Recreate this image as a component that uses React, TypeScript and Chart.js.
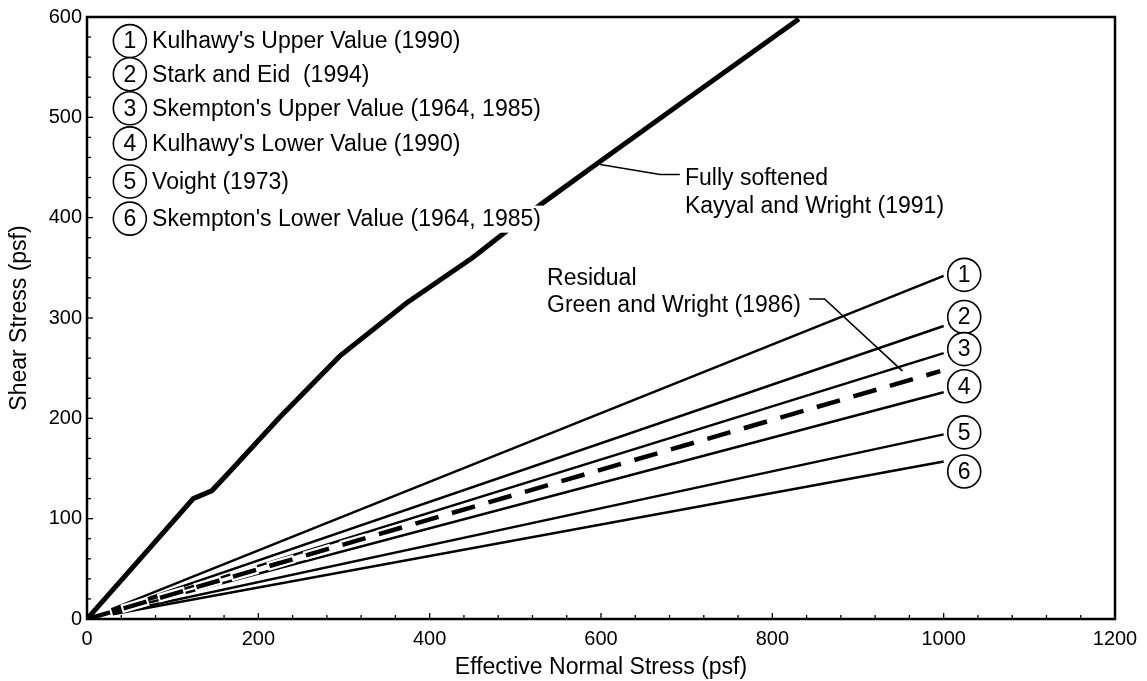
import { useEffect, useRef } from "react";
import { Chart, registerables } from "chart.js";
Chart.register(...registerables);

const FONT = "'Liberation Sans', Arial, Helvetica, sans-serif";

// Fully softened curve (Kayyal and Wright 1991)
const fullySoftenedX = [0, 60, 124, 146, 170, 225, 295, 373, 450, 531, 594, 700, 831];
const fullySoftenedY = [0, 58, 120, 128, 150, 201, 262, 315, 360, 414, 453, 518, 598];

// Straight envelopes (x = 0 and x = 1000)
const lineX = [0, 1000];
const line1 = [0, 342];
const line2 = [0, 292];
const line3 = [0, 265];
const line4 = [0, 226];
const line5 = [0, 184];
const line6 = [0, 157];

// Residual (Green and Wright 1986), dashed
const residualX = [0, 996];
const residualY = [0, 247];

// Legend list
const legendNumbers = ["1", "2", "3", "4", "5", "6"];
const legendLabels = [
  "Kulhawy's Upper Value (1990)",
  "Stark and Eid  (1994)",
  "Skempton's Upper Value (1964, 1985)",
  "Kulhawy's Lower Value (1990)",
  "Voight (1973)",
  "Skempton's Lower Value (1964, 1985)",
];
const legendCircleX = 50;
const legendTextX = 76;
const legendY = [576, 543, 509, 474, 436, 399];

// Circled numbers at ends of lines
const endCircleX = 1024;
const endCircleY = [343, 301, 269, 232, 186, 147];

// Annotations
const softLabel = ["Fully softened", "Kayyal and Wright (1991)"];
const softLabelX = 698;
const softLabelY = [439, 411];
const softLeaderX = [599, 669, 692];
const softLeaderY = [453, 443, 443];

const residualLabel = ["Residual", "Green and Wright (1986)"];
const residualLabelX = 537;
const residualLabelY = [339, 312];
const residualLeaderX = [843, 861, 952];
const residualLeaderY = [319, 319, 247];

const pts = (xs: number[], ys: number[]) => xs.map((x, i) => ({ x, y: ys[i] }));

const framePlugin = {
  id: "frameAndAnnotations",
  afterDatasetsDraw(chart: any) {
    const { ctx, chartArea } = chart;
    const xs = chart.scales.x;
    const ys = chart.scales.y;
    const X = (v: number) => xs.getPixelForValue(v);
    const Y = (v: number) => ys.getPixelForValue(v);
    ctx.save();
    // frame
    ctx.strokeStyle = "#000";
    ctx.lineWidth = 2.5;
    ctx.strokeRect(chartArea.left, chartArea.top, chartArea.right - chartArea.left, chartArea.bottom - chartArea.top);
    // inward ticks
    ctx.lineWidth = 1.3;
    for (let v = 0; v <= 1200; v += 40) {
      const p = X(v);
      const len = v % 200 === 0 ? 6 : 4;
      ctx.beginPath();
      ctx.moveTo(p, chartArea.bottom);
      ctx.lineTo(p, chartArea.bottom - len);
      ctx.stroke();
    }
    for (let v = 0; v <= 600; v += 20) {
      const p = Y(v);
      const len = v % 100 === 0 ? 6 : 4;
      ctx.beginPath();
      ctx.moveTo(chartArea.left, p);
      ctx.lineTo(chartArea.left + len, p);
      ctx.stroke();
    }

    const circle = (cx: number, cy: number, txt: string) => {
      ctx.beginPath();
      ctx.arc(cx, cy, 16.5, 0, Math.PI * 2);
      ctx.fillStyle = "#fff";
      ctx.fill();
      ctx.lineWidth = 1.6;
      ctx.strokeStyle = "#000";
      ctx.stroke();
      ctx.fillStyle = "#000";
      ctx.font = `23px ${FONT}`;
      ctx.textAlign = "center";
      ctx.textBaseline = "middle";
      ctx.fillText(txt, cx, cy + 1);
    };

    // legend list
    legendLabels.forEach((lab, i) => {
      const tx = X(legendTextX);
      const ty = Y(legendY[i]);
      ctx.font = `23px ${FONT}`;
      const w = ctx.measureText(lab).width;
      ctx.fillStyle = "#fff";
      ctx.fillRect(tx - 2, ty - 13, w + 4, 27);
      ctx.fillStyle = "#000";
      ctx.textAlign = "left";
      ctx.textBaseline = "middle";
      ctx.fillText(lab, tx, ty + 1);
      circle(X(legendCircleX), ty, legendNumbers[i]);
    });

    // end circles
    endCircleY.forEach((v, i) => circle(X(endCircleX), Y(v), legendNumbers[i]));

    // leaders
    const leader = (lx: number[], ly: number[]) => {
      ctx.beginPath();
      ctx.lineWidth = 1.6;
      ctx.strokeStyle = "#000";
      lx.forEach((x, i) => (i === 0 ? ctx.moveTo(X(x), Y(ly[i])) : ctx.lineTo(X(x), Y(ly[i]))));
      ctx.stroke();
    };
    leader(softLeaderX, softLeaderY);
    leader(residualLeaderX, residualLeaderY);

    ctx.fillStyle = "#000";
    ctx.font = `23px ${FONT}`;
    ctx.textAlign = "left";
    ctx.textBaseline = "middle";
    softLabel.forEach((t, i) => ctx.fillText(t, X(softLabelX), Y(softLabelY[i])));
    residualLabel.forEach((t, i) => ctx.fillText(t, X(residualLabelX), Y(residualLabelY[i])));
    ctx.restore();
  },
};

export default function App() {
  const ref = useRef<HTMLCanvasElement | null>(null);
  useEffect(() => {
    if (!ref.current) return;
    const thin = (data: number[], order: number) => ({
      data: pts(lineX, data),
      borderColor: "#000",
      borderWidth: 2.5,
      pointRadius: 0,
      fill: false,
      tension: 0,
      order,
    });
    const chart = new Chart(ref.current, {
      type: "line",
      data: {
        datasets: [
          {
            label: "Fully softened",
            data: pts(fullySoftenedX, fullySoftenedY),
            borderColor: "#000",
            borderWidth: 5,
            pointRadius: 0,
            tension: 0,
            fill: false,
            order: 1,
          } as any,
          {
            label: "Residual",
            data: pts(residualX, residualY),
            borderColor: "#000",
            borderWidth: 4.5,
            borderDash: [24, 14],
            pointRadius: 0,
            tension: 0,
            fill: false,
            order: 2,
          },
          {
            label: "Residual halo",
            data: pts(residualX, residualY),
            borderColor: "#fff",
            borderWidth: 9,
            borderDash: [28, 10],
            borderDashOffset: 2,
            pointRadius: 0,
            tension: 0,
            fill: false,
            order: 3,
          },
          { label: "1", ...thin(line1, 4) },
          { label: "2", ...thin(line2, 4) },
          { label: "3", ...thin(line3, 4) },
          { label: "4", ...thin(line4, 4) },
          { label: "5", ...thin(line5, 4) },
          { label: "6", ...thin(line6, 4) },
        ],
      },
      options: {
        animation: false,
        responsive: false,
        layout: { padding: { left: 0, top: 15, right: 32, bottom: 0 } },
        plugins: { legend: { display: false }, tooltip: { enabled: false } },
        scales: {
          x: {
            type: "linear",
            min: 0,
            max: 1200,
            ticks: {
              stepSize: 200,
              color: "#000",
              font: { family: FONT, size: 20 },
              padding: 8,
              maxRotation: 0,
              callback: (v: any) => String(v),
            },
            grid: { display: false, drawTicks: false },
            border: { display: false },
            title: {
              display: true,
              text: "Effective Normal Stress (psf)",
              color: "#000",
              font: { family: FONT, size: 23 },
              padding: { top: 7, bottom: 0 },
            },
            afterFit: (s: any) => {
              s.height = 62;
            },
          },
          y: {
            type: "linear",
            min: 0,
            max: 600,
            ticks: {
              stepSize: 100,
              color: "#000",
              font: { family: FONT, size: 20 },
              padding: 5,
              callback: (v: any) => String(v),
            },
            grid: { display: false, drawTicks: false },
            border: { display: false },
            title: {
              display: true,
              text: "Shear Stress (psf)",
              color: "#000",
              font: { family: FONT, size: 23 },
              padding: { top: 6, bottom: 0 },
            },
            afterFit: (s: any) => {
              s.width = 87;
            },
          },
        },
      },
      plugins: [framePlugin],
    });
    return () => chart.destroy();
  }, []);
  return (
    <div style={{ position: "fixed", left: 0, top: 0, width: 1147, height: 681, background: "#fff" }}>
      <canvas ref={ref} width={1147} height={681} style={{ display: "block" }} />
    </div>
  );
}
